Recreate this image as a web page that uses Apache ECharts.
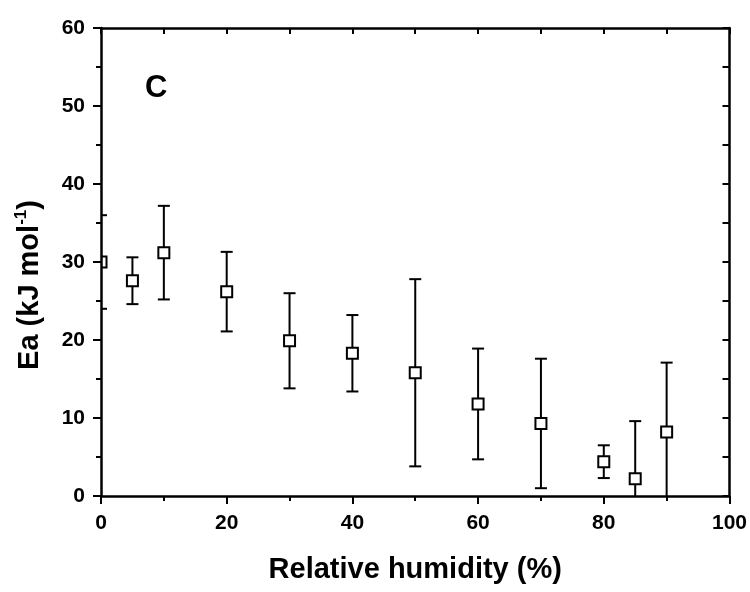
<!DOCTYPE html>
<html><head><meta charset="utf-8">
<script src="https://cdn.jsdelivr.net/npm/echarts@6/dist/echarts.min.js"></script>
<style>html,body{margin:0;padding:0;background:#fff}#c{width:750px;height:592px}</style>
</head><body><div id="c"></div>
<script>
// Data
const humidity = [0, 5, 10, 20, 30, 40, 50, 60, 70, 80, 85, 90];
const ea       = [30.0, 27.6, 31.2, 26.2, 19.9, 18.3, 15.8, 11.8, 9.3, 4.4, 2.2, 8.2];
const eaErr    = [6.0, 3.0, 6.0, 5.1, 6.1, 4.9, 12.0, 7.1, 8.3, 2.1, 7.4, 8.9];
const panelLabel = 'C';
const xTitle = 'Relative humidity (%)';

const FONT = '"Liberation Sans", Arial, Helvetica, sans-serif';
const data = humidity.map((h, i) => [h, ea[i], eaErr[i]]);

const chart = echarts.init(document.getElementById('c'), null, {renderer: 'canvas'});
const lineStyle = {color: '#000', width: 2.5};
chart.setOption({
  animation: false,
  backgroundColor: '#fff',
  title: {
    text: panelLabel, left: 140, top: 68,
    textStyle: {fontFamily: FONT, fontWeight: 'bold', fontSize: 31, color: '#000'}
  },
  grid: {left: 101, right: 20, top: 28, bottom: 96},
  xAxis: [{
    type: 'value', position: 'bottom', min: 0, max: 100, interval: 20, z: 10,
    name: xTitle, nameLocation: 'middle', nameGap: 57,
    nameTextStyle: {fontFamily: FONT, fontWeight: 'bold', fontSize: 29, color: '#000', lineHeight: 34},
    axisLine: {onZero: false, lineStyle: lineStyle},
    axisTick: {inside: false, length: 8, lineStyle: {color: '#000', width: 2}},
    minorTick: {show: true, splitNumber: 2, length: 5, lineStyle: {color: '#000', width: 2}},
    axisLabel: {margin: 17, fontFamily: FONT, fontWeight: 'bold', fontSize: 21, color: '#000'},
    splitLine: {show: false}, minorSplitLine: {show: false}
  }, {
    type: 'value', position: 'top', min: 0, max: 100, interval: 10, z: 10,
    axisLine: {show: true, onZero: false, lineStyle: lineStyle},
    axisTick: {show: true, inside: true, length: 6, lineStyle: {color: '#000', width: 2}},
    axisLabel: {show: false}, splitLine: {show: false}
  }],
  yAxis: [{
    type: 'value', position: 'left', min: 0, max: 60, interval: 10, z: 10,
    name: '{a|Ea (kJ mol}{s|-1}{a|)}', nameLocation: 'middle', nameGap: 54, nameRotate: 90,
    nameTextStyle: {
      padding: [0, 46, 0, 0],
      rich: {
        a: {fontFamily: FONT, fontWeight: 'bold', fontSize: 29, color: '#000', lineHeight: 34},
        s: {fontFamily: FONT, fontWeight: 'bold', fontSize: 17, color: '#000', lineHeight: 18, verticalAlign: 'top'}
      }
    },
    axisLine: {onZero: false, lineStyle: lineStyle},
    axisTick: {inside: false, length: 8, lineStyle: {color: '#000', width: 2}},
    minorTick: {show: true, splitNumber: 2, length: 5, lineStyle: {color: '#000', width: 2}},
    axisLabel: {margin: 16, fontFamily: FONT, fontWeight: 'bold', fontSize: 21, color: '#000'},
    splitLine: {show: false}, minorSplitLine: {show: false}
  }, {
    type: 'value', position: 'right', min: 0, max: 60, interval: 5, z: 10,
    axisLine: {show: true, onZero: false, lineStyle: lineStyle},
    axisTick: {show: true, inside: true, length: 7, lineStyle: {color: '#000', width: 2}},
    axisLabel: {show: false}, splitLine: {show: false}
  }],
  series: [{
    type: 'custom',
    xAxisIndex: 0, yAxisIndex: 0,
    clip: true,
    encode: {x: 0, y: 1},
    data: data,
    renderItem: function (params, api) {
      const x = api.value(0), y = api.value(1), e = api.value(2);
      const c = api.coord([x, y]);
      const hi = api.coord([x, y + e]);
      const lo = api.coord([x, y - e]);
      const cap = 6, half = 5.5;
      const st = {stroke: '#000', lineWidth: 2};
      return {type: 'group', children: [
        {type: 'line', shape: {x1: c[0], y1: hi[1], x2: c[0], y2: lo[1]}, style: st},
        {type: 'line', shape: {x1: c[0] - cap, y1: hi[1], x2: c[0] + cap, y2: hi[1]}, style: st},
        {type: 'line', shape: {x1: c[0] - cap, y1: lo[1], x2: c[0] + cap, y2: lo[1]}, style: st},
        {type: 'rect', shape: {x: c[0] - half, y: c[1] - half, width: 2 * half, height: 2 * half},
         style: {fill: '#fff', stroke: '#000', lineWidth: 2}}
      ]};
    }
  }]
});
</script>
</body></html>
